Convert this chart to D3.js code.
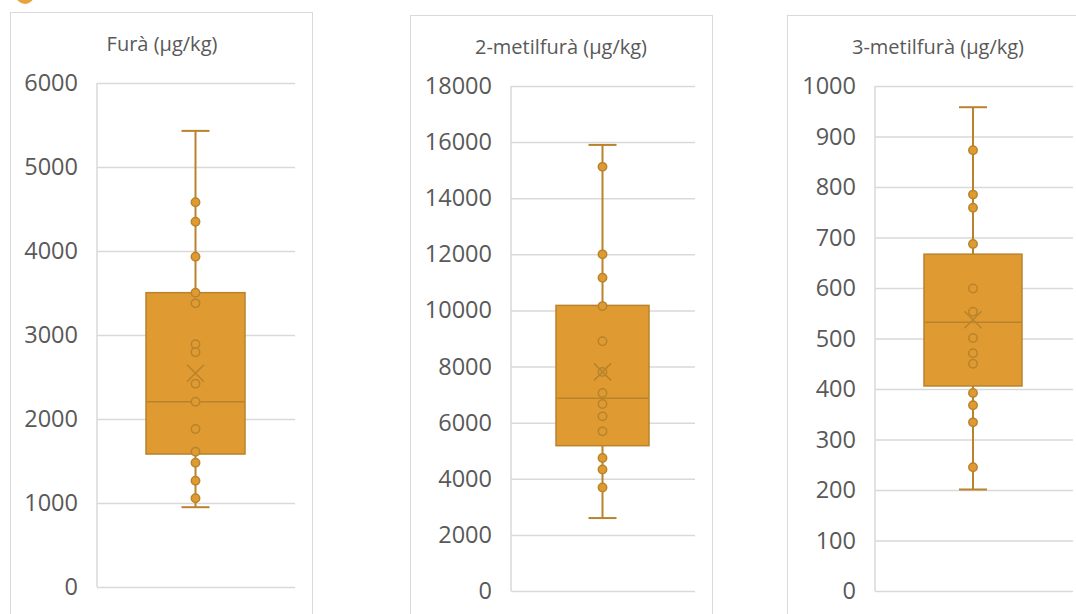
<!DOCTYPE html>
<html><head><meta charset="utf-8">
<script src="https://cdn.jsdelivr.net/npm/d3@7"></script>
<style>
html,body{margin:0;padding:0;background:#fff;}
svg{display:block;font-family:"Open Sans",sans-serif;}
</style></head>
<body>
<svg id="c" width="1076" height="614"></svg>
<script>
// ---- data ----
const titles = ["Furà (µg/kg)", "2-metilfurà (µg/kg)", "3-metilfurà (µg/kg)"];
const yMax = [6000, 18000, 1000];
const yStep = [1000, 2000, 100];
const whiskerLow = [950, 2600, 201];
const q1 = [1583, 5179, 406];
const median = [2206, 6868, 532];
const q3 = [3504, 10180, 667];
const whiskerHigh = [5430, 15900, 958];
const mean = [2544, 7810, 537];
const furaPoints = [4580, 4349, 3932, 3504, 3377, 2889, 2794, 2421, 2206, 1881, 1611, 1480, 1265, 1056];
const metil2Points = [15118, 12000, 11167, 10155, 8904, 7810, 7060, 6667, 6226, 5690, 4738, 4333, 3690];
const metil3Points = [873, 785, 759, 687, 599, 553, 501, 471, 450, 392, 368, 334, 245];
const pointSets = [furaPoints, metil2Points, metil3Points];

// ---- layout ----
const panels = [
  {bx0: 10.5, bx1: 312.5, by0: 12.5, ax: 97, gx1: 295, yTop: 83, yBot: 587, titleX: 162, titleY: 51, cx: 195.5, bw: 99},
  {bx0: 410.5, bx1: 712.5, by0: 15.5, ax: 511, gx1: 695, yTop: 86, yBot: 591, titleX: 561, titleY: 54, cx: 602.5, bw: 93},
  {bx0: 787.5, bx1: 1090, by0: 15.5, ax: 875, gx1: 1073, yTop: 86, yBot: 591, titleX: 938, titleY: 54, cx: 973, bw: 98}
];
const fill = "#DF9B31", stroke = "#B8832C";
const svg = d3.select("#c");

// top-left partial badge
svg.append("circle").attr("cx", 25).attr("cy", -5).attr("r", 9).attr("fill", "#E8A33A");

panels.forEach((p, i) => {
  const g = svg.append("g");
  g.append("rect").attr("x", p.bx0).attr("y", p.by0)
    .attr("width", p.bx1 - p.bx0).attr("height", 700)
    .attr("fill", "#fff").attr("stroke", "#D9D9D9").attr("stroke-width", 1);
  g.append("text").attr("x", p.titleX).attr("y", p.titleY)
    .attr("text-anchor", "middle").attr("font-size", 20).attr("fill", "#595959")
    .text(titles[i]);

  const y = d3.scaleLinear().domain([0, yMax[i]]).range([p.yBot, p.yTop]);
  const ticks = d3.range(0, yMax[i] + yStep[i] / 2, yStep[i]);
  const axis = d3.axisLeft(y).tickValues(ticks).tickFormat(d3.format("d"))
    .tickSize(-(p.gx1 - p.ax)).tickPadding(19);
  const ag = g.append("g").attr("transform", `translate(${p.ax},0)`).call(axis);
  ag.select(".domain").attr("stroke", "#D9D9D9").attr("stroke-width", 1.5)
    .attr("d", `M0,${p.yTop}V${p.yBot}`);
  ag.selectAll(".tick line").attr("stroke", "#D9D9D9").attr("stroke-width", 1.5);
  ag.selectAll(".tick text").attr("fill", "#595959").attr("font-size", 23.5)
    .attr("font-family", "\"Open Sans\",sans-serif");

  const cx = p.cx, hw = p.bw / 2, cap = 14;
  g.append("line").attr("x1", cx).attr("x2", cx).attr("y1", y(whiskerHigh[i])).attr("y2", y(q3[i]))
    .attr("stroke", stroke).attr("stroke-width", 2);
  g.append("line").attr("x1", cx).attr("x2", cx).attr("y1", y(q1[i])).attr("y2", y(whiskerLow[i]))
    .attr("stroke", stroke).attr("stroke-width", 2);
  [whiskerHigh[i], whiskerLow[i]].forEach(v => {
    g.append("line").attr("x1", cx - cap).attr("x2", cx + cap).attr("y1", y(v)).attr("y2", y(v))
      .attr("stroke", stroke).attr("stroke-width", 2);
  });
  g.append("rect").attr("x", cx - hw).attr("y", y(q3[i]))
    .attr("width", p.bw).attr("height", y(q1[i]) - y(q3[i]))
    .attr("fill", fill).attr("stroke", stroke).attr("stroke-width", 1.5);
  g.append("line").attr("x1", cx - hw).attr("x2", cx + hw).attr("y1", y(median[i])).attr("y2", y(median[i]))
    .attr("stroke", stroke).attr("stroke-width", 1.5);
  g.selectAll("circle.pt").data(pointSets[i]).enter().append("circle")
    .attr("class", "pt").attr("cx", cx).attr("cy", d => y(d)).attr("r", 4.2)
    .attr("fill", fill).attr("stroke", stroke).attr("stroke-width", 1.5);
  const my = y(mean[i]), s = 8.5;
  g.append("path").attr("d", `M${cx - s},${my - s}L${cx + s},${my + s}M${cx - s},${my + s}L${cx + s},${my - s}`)
    .attr("stroke", stroke).attr("stroke-width", 1.5).attr("fill", "none");
});
</script>
</body></html>
